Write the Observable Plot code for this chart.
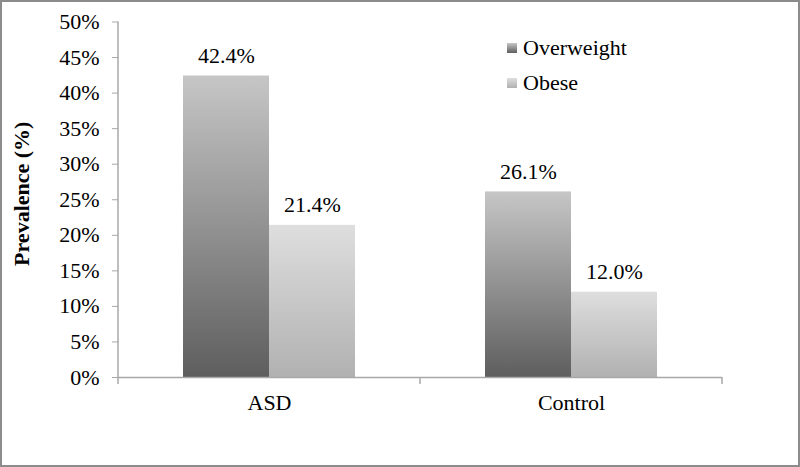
<!DOCTYPE html>
<html><head><meta charset="utf-8">
<script src="https://cdn.jsdelivr.net/npm/d3@7"></script>
<script src="https://cdn.jsdelivr.net/npm/@observablehq/plot@0.6"></script>
<style>
body{margin:0;background:#fff;}
#wrap{position:relative;width:800px;height:467px;overflow:hidden;}
#wrap svg{display:block;outline:2px solid #8c8c8c;outline-offset:-2px;}
#wrap svg, #wrap svg text{font-family:"Liberation Serif",serif !important;}
#wrap svg [aria-label="y-axis label"] text{font-weight:bold;}
.legend{position:absolute;left:507px;font-family:"Liberation Serif",serif;font-size:22px;color:#000;line-height:1;}
.legend .item{position:absolute;left:0;white-space:nowrap;}
.legend .sw{position:absolute;left:0;width:10px;height:10px;}
.legend .lb{position:absolute;left:16px;top:-6px;}
</style></head>
<body><div id="wrap"></div>
<script>
const categories = ["ASD", "Control"];
const series = ["Overweight", "Obese"];
const overweight = [42.4, 26.1];
const obese = [21.4, 12.0];
const yTicks = [0, 5, 10, 15, 20, 25, 30, 35, 40, 45, 50];
const gradients = {
  Overweight: ["#c6c6c6", "#5e5e5e"],
  Obese: ["#dedede", "#b1b1b1"]
};

const data = categories.flatMap((c, i) => [
  {cat: c, series: "Overweight", value: overweight[i]},
  {cat: c, series: "Obese", value: obese[i]}
]);

const plot = Plot.plot({
  width: 800,
  height: 467,
  marginLeft: 118,
  marginRight: 78,
  marginTop: 21.5,
  marginBottom: 90,
  style: {fontFamily: "Liberation Serif", fontSize: "22px", color: "#000", background: "#fff", overflow: "visible"},
  fx: {domain: categories, padding: 0, label: null, axis: "bottom", tickSize: 0, tickPadding: 17},
  x: {domain: series, paddingInner: 0, paddingOuter: 0.736, axis: null},
  y: {domain: [0, 50], ticks: yTicks, tickFormat: d => d + "%", tickSize: 6, tickPadding: 13,
      label: "Prevalence (%)", labelArrow: "none", labelAnchor: "center", labelOffset: 105},
  marks: [
    Plot.barY(data.filter(d => d.series === "Overweight"), {fx: "cat", x: "series", y: "value", fill: "url(#g-Overweight)"}),
    Plot.barY(data.filter(d => d.series === "Obese"), {fx: "cat", x: "series", y: "value", fill: "url(#g-Obese)"}),
    Plot.ruleY([0], {stroke: "#a8a8a8", strokeWidth: 1.5}),
    Plot.text(data, {fx: "cat", x: "series", y: "value", text: d => d.value.toFixed(1) + "%", dy: -20, fill: "#000"})
  ]
});

const svg = d3.select(plot);
const defs = svg.insert("defs", ":first-child");
for (const s of series) {
  const g = defs.append("linearGradient").attr("id", "g-" + s)
    .attr("x1", 0).attr("y1", 0).attr("x2", 0).attr("y2", 1);
  g.append("stop").attr("offset", "0%").attr("stop-color", gradients[s][0]);
  g.append("stop").attr("offset", "100%").attr("stop-color", gradients[s][1]);
}
svg.selectAll('[aria-label="y-axis tick"] path, [aria-label="y-axis tick"]').attr("stroke", "#a8a8a8");
svg.selectAll('[aria-label="y-axis label"] text').text("Prevalence (%)").attr("dx", 6);

// axis line and category boundary ticks from the library scales
const fx = plot.scale("fx"), y = plot.scale("y");
const x0 = fx.apply(categories[0]);
const bounds = categories.map(c => fx.apply(c)).concat([fx.apply(categories[categories.length - 1]) + fx.bandwidth]);
const y0 = y.apply(0), yTop = y.apply(50);
const ax = svg.append("g").attr("stroke", "#a8a8a8").attr("stroke-width", 1.5);
ax.append("line").attr("x1", x0).attr("x2", x0).attr("y1", yTop).attr("y2", y0);
for (const b of bounds) ax.append("line").attr("x1", b).attr("x2", b).attr("y1", y0).attr("y2", y0 + 7);

const wrap = document.getElementById("wrap");
wrap.appendChild(plot);

const legend = document.createElement("div");
legend.className = "legend";
legend.style.top = "43px";
series.forEach((s, i) => {
  const it = document.createElement("div");
  it.className = "item";
  it.style.top = (i * 35) + "px";
  it.innerHTML = `<div class="sw" style="background:linear-gradient(${gradients[s][0]},${gradients[s][1]})"></div><div class="lb">${s}</div>`;
  legend.appendChild(it);
});
wrap.appendChild(legend);
</script>
</body></html>
